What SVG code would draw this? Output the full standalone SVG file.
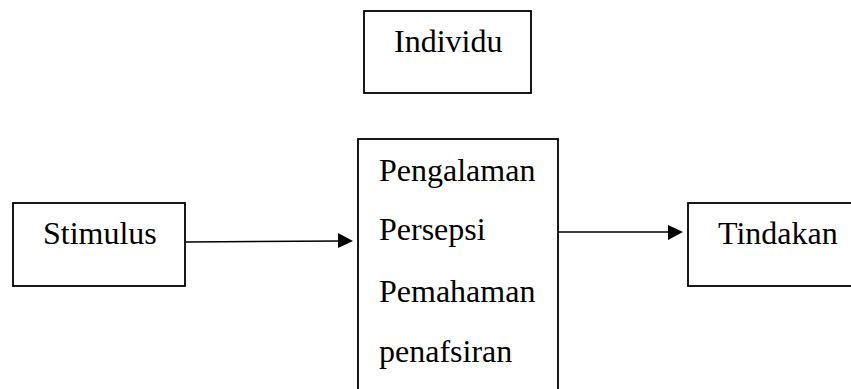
<svg xmlns="http://www.w3.org/2000/svg" width="851" height="389" viewBox="0 0 851 389">
<style>
.box{fill:#fff;stroke:#000;stroke-width:1.8}
.t{font-family:"Liberation Serif","Times New Roman",serif;font-size:32px;fill:#000}
.c{stroke:#000;stroke-width:1.5;fill:none}
</style>
<rect width="851" height="389" fill="#fff"/>
<g id="individu">
<rect class="box" x="364" y="11" width="167" height="82"/>
<text class="t" x="394" y="52">Individu</text>
</g>
<g id="stimulus">
<rect class="box" x="13" y="203" width="172" height="83"/>
<text class="t" x="43" y="244">Stimulus</text>
</g>
<g id="proses">
<rect class="box" x="358" y="139" width="200" height="270"/>
<text class="t" x="379" y="181">Pengalaman</text>
<text class="t" x="379" y="240">Persepsi</text>
<text class="t" x="379" y="302">Pemahaman</text>
<text class="t" x="379" y="362">penafsiran</text>
</g>
<g id="tindakan">
<rect class="box" x="688" y="203" width="175" height="83"/>
<text class="t" x="718" y="244">Tindakan</text>
</g>
<g id="connectors">
<line class="c" x1="186" y1="242" x2="340" y2="241"/>
<polygon points="338,233 353,241 338,248" fill="#000"/>
<line class="c" x1="558" y1="232" x2="670" y2="232"/>
<polygon points="668,225 683,232 668,240" fill="#000"/>
</g>
</svg>
